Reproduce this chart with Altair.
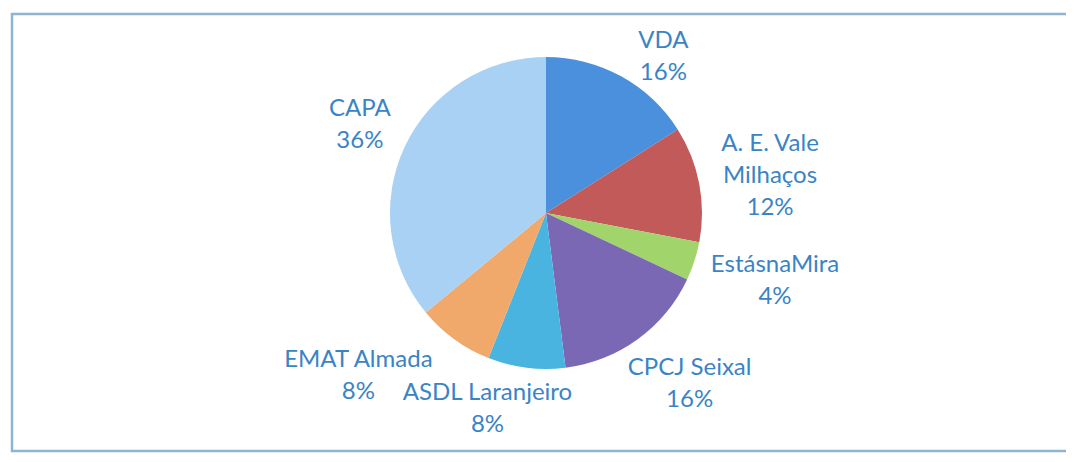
import math
import altair as alt
import pandas as pd

# ---- data ----
categories = ["VDA", "A. E. Vale Milhaços", "EstásnaMira", "CPCJ Seixal",
              "ASDL Laranjeiro", "EMAT Almada", "CAPA"]
label_names = ["VDA", "A. E. Vale\nMilhaços", "EstásnaMira", "CPCJ Seixal",
               "ASDL Laranjeiro", "EMAT Almada", "CAPA"]
percent = [16, 12, 4, 16, 8, 8, 36]

# ---- styling ----
slice_colors = ["#4b90dc", "#c35a5a", "#a2d46c", "#7a68b4",
                "#49b4df", "#f0a86b", "#a9d1f3"]
label_color = "#3a84c6"
font = "Lato"
font_size = 24
line_height = 32
pie_r = 156
cx, cy = 538, 205
# manual nudges Excel applied to labels (best-fit collision handling)
label_nudge = {
    "VDA": (22, 17), "A. E. Vale Milhaços": (4, 5), "EstásnaMira": (12, -3),
    "CPCJ Seixal": (13, -9), "ASDL Laranjeiro": (-33, -6),
    "EMAT Almada": (-57, -17), "CAPA": (-9, -5),
}

df = pd.DataFrame({
    "category": categories,
    "value": percent,
    "idx": list(range(len(categories))),
    "text": [f"{n}\n{p}%" for n, p in zip(label_names, percent)],
})
df["mid"] = df["value"].cumsum() - df["value"] / 2

theta_scale = alt.Scale(domain=[0, 100], range=[0, 2 * math.pi])

frame = alt.Chart(pd.DataFrame({"a": [0]})).mark_rect(
    filled=False, stroke="#8fb4d2", strokeWidth=2.5
).encode(x=alt.value(4), x2=alt.value(1062), y=alt.value(6), y2=alt.value(443))

shadow = alt.Chart(pd.DataFrame({"v": [1]})).mark_arc(
    outerRadius=pie_r + 1, color="#3e3c4c"
).encode(theta=alt.Theta("v:Q", stack=True), x=alt.value(cx - 1), y=alt.value(cy + 3))

pie = alt.Chart(df).mark_arc(outerRadius=pie_r, strokeWidth=0).encode(
    theta=alt.Theta("value:Q", stack=True, scale=theta_scale),
    color=alt.Color("category:N", scale=alt.Scale(domain=categories, range=slice_colors),
                    legend=None),
    order=alt.Order("idx:Q"),
    x=alt.value(cx), y=alt.value(cy),
)

layers = [frame, shadow, pie]
char_w = 10.5
for _, row in df.iterrows():
    lines = row["text"].split("\n")
    half_w = max(len(s) for s in lines) * char_w / 2
    half_h = len(lines) * 15
    ang = math.radians(row["mid"] * 3.6)
    r = pie_r + 8 + abs(math.sin(ang)) * half_w + abs(math.cos(ang)) * half_h
    dx, dy = label_nudge[row["category"]]
    dy -= (len(lines) - 1) * line_height / 2  # centre the text block
    lab = alt.Chart(df).transform_filter(
        alt.datum.category == row["category"]
    ).mark_text(
        radius=r, dx=dx, dy=dy, font=font, fontSize=font_size, lineHeight=line_height,
        lineBreak="\n", align="center", baseline="middle", color=label_color,
    ).encode(
        theta=alt.Theta("mid:Q", stack=False, scale=theta_scale),
        text="text:N",
        x=alt.value(cx), y=alt.value(cy),
    )
    layers.append(lab)

chart = alt.layer(*layers).properties(
    width=1058, height=446,
    autosize=alt.AutoSizeParams(type="fit", contains="padding"),
    padding=0,
    background="white",
).configure_view(stroke=None)

chart.save("out.html", embed_options={"renderer": "svg", "actions": False})
